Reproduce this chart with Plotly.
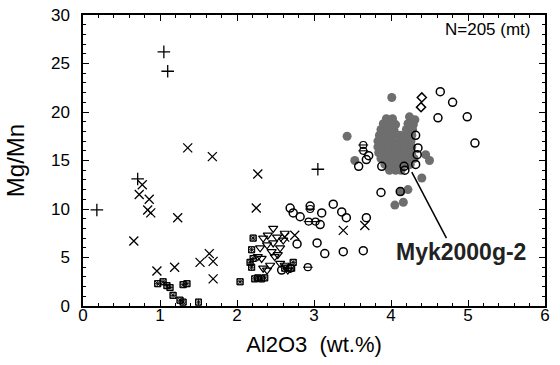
import plotly.graph_objects as go

# ---- data (Al2O3 wt.%, Mg/Mn) ----
plus_x = [1.05, 1.10, 0.18, 0.71, 3.05]
plus_y = [26.2, 24.2, 9.9, 13.1, 14.1]

xmark_x = [1.36, 1.68, 2.27, 0.77, 0.73, 0.86, 0.84, 0.88, 1.23, 0.66, 0.96, 1.19,
           1.52, 1.64, 1.69, 1.69, 2.25, 2.62, 2.75, 3.38, 3.66]
xmark_y = [16.3, 15.4, 13.6, 12.5, 11.5, 11.0, 9.9, 9.6, 9.1, 6.7, 3.6, 4.0,
           4.5, 5.4, 4.6, 2.8, 10.1, 7.1, 7.3, 7.8, 8.3]

sq_x = [0.97, 1.04, 1.09, 1.13, 1.17, 1.26, 1.30, 1.30, 1.35, 1.50, 2.04, 2.23,
        2.32, 2.21, 2.19, 2.21, 2.19, 2.27, 2.36, 2.73, 2.71, 2.62, 2.17]
sq_y = [2.3, 2.5, 2.1, 1.9, 1.1, 0.6, 0.4, 2.2, 2.3, 0.4, 2.5, 2.8,
        2.8, 7.0, 5.8, 4.9, 4.0, 2.9, 2.9, 4.5, 3.9, 3.9, 4.5]

tri_x = [2.47, 2.62, 2.34, 2.40, 2.52, 2.39, 2.47, 2.30, 2.32, 2.45, 2.49, 2.34,
         2.56, 2.66, 2.60, 2.56, 2.27, 2.53, 2.43, 2.39, 2.62]
tri_y = [8.0, 7.5, 7.0, 7.3, 7.1, 6.3, 6.5, 6.0, 4.9, 5.6, 5.1, 3.9,
         4.4, 3.7, 6.8, 6.0, 5.1, 5.3, 4.2, 3.7, 4.2]

circ_x = [2.69, 2.73, 2.82, 2.95, 3.10, 3.08, 3.25, 3.36, 3.42, 3.68, 3.04, 2.78,
          3.14, 3.38, 3.64, 2.58, 2.69, 3.87, 4.12, 4.64, 4.80, 4.61, 4.99,
          5.09, 3.71, 3.58, 3.88, 4.17, 4.32, 4.35, 4.34, 4.32, 4.18, 3.68]
circ_y = [10.1, 9.6, 9.2, 10.3, 9.6, 8.4, 10.5, 9.7, 9.1, 9.1, 6.5, 6.4,
          5.4, 5.6, 5.7, 3.7, 3.9, 11.7, 11.8, 22.1, 21.0, 19.4, 19.5,
          16.8, 15.5, 14.4, 14.4, 14.4, 17.6, 16.3, 15.6, 14.6, 14.0, 15.1]

bar_x = [3.64, 3.64, 2.93, 3.02, 2.92, 2.95]
bar_y = [16.6, 16.0, 8.7, 8.7, 4.0, 10.0]

dia_x = [4.40, 4.39]
dia_y = [21.5, 20.5]

fill_x = [4.01, 3.43, 3.53, 4.45, 4.40, 4.13, 4.22, 4.05, 4.16, 4.50,
          3.94, 4.02, 4.24, 4.31,
          3.90, 3.98, 4.06, 4.22, 4.29,
          3.87, 3.95, 4.04, 4.20, 4.28,
          3.85, 3.94, 4.03, 4.12, 4.19, 4.27,
          3.83, 3.92, 4.01, 4.10, 4.19, 4.26,
          3.83, 3.92, 4.01, 4.10, 4.19, 4.27,
          3.84, 3.92, 4.01, 4.10, 4.19, 4.27,
          3.87, 3.95, 4.04, 4.13, 4.22, 4.30,
          3.92, 4.00, 4.08, 4.17, 4.25,
          3.98, 4.06, 4.13]
fill_y = [21.5, 17.5, 15.0, 15.6, 13.2, 11.8, 12.0, 10.4, 10.7, 15.0,
          19.3, 19.3, 19.5, 19.2,
          18.8, 18.8, 18.7, 18.8, 18.7,
          18.2, 18.2, 18.1, 18.2, 18.2,
          17.6, 17.6, 17.7, 17.6, 17.6, 17.6,
          17.0, 17.0, 17.0, 17.0, 17.0, 17.0,
          16.4, 16.4, 16.4, 16.4, 16.4, 16.4,
          15.8, 15.8, 15.8, 15.8, 15.8, 15.8,
          15.2, 15.2, 15.2, 15.2, 15.2, 15.2,
          14.6, 14.6, 14.6, 14.6, 14.6,
          14.0, 14.0, 14.0]

label_text = "Myk2000g-2"
n_text = "N=205 (mt)"

fig = go.Figure()

def add(x, y, symbol, size, color="black", lw=1.3):
    fig.add_trace(go.Scatter(x=x, y=y, mode="markers",
                             marker=dict(symbol=symbol, size=size, color=color,
                                         line=dict(color=color, width=lw)),
                             showlegend=False, hoverinfo="skip"))

add(fill_x, fill_y, "circle", 9, color="#6e6e6e", lw=0)
add(sq_x, sq_y, "square-x-open", 6, lw=0.9)
add(sq_x, sq_y, "square-cross-open", 6, lw=0.9)
add(tri_x, tri_y, "triangle-down-open", 8, lw=1.2)
add(circ_x, circ_y, "circle-open", 8, lw=1.5)
add(bar_x, bar_y, "circle-open", 7, lw=1.2)
add(bar_x, bar_y, "line-ew-open", 7, lw=1.1)
add(dia_x, dia_y, "diamond-open", 7, lw=1.5)
add(xmark_x, xmark_y, "x-thin-open", 9, lw=1.3)
add(plus_x, plus_y, "cross-thin-open", 9, lw=1.3)

fig.add_shape(type="line", x0=4.27, y0=13.8, x1=4.72, y1=7.0,
              line=dict(color="black", width=1.5))
fig.add_annotation(x=4.91, y=5.6, text="<b>" + label_text + "</b>", showarrow=False,
                   font=dict(size=23, color="#222"))
fig.add_annotation(x=0.975, y=0.99, xref="paper", yref="paper", xanchor="right", yanchor="top",
                   text=n_text, showarrow=False, font=dict(size=17, color="black"))

axis_common = dict(showline=True, linecolor="black", linewidth=1.5, mirror="ticks",
                   ticks="inside", ticklen=6, tickwidth=1.2, tickcolor="black",
                   showgrid=False, zeroline=False, automargin=False,
                   tickfont=dict(size=17, color="black"))

fig.update_xaxes(range=[0, 6], dtick=1, tick0=0, ticklabelstandoff=-7,
                 minor=dict(dtick=0.2, ticklen=3, ticks="inside", tickcolor="black", showgrid=False),
                 title=dict(text="Al2O3  (wt.%)", font=dict(size=22, color="black"), standoff=12),
                 **axis_common)
fig.update_yaxes(range=[0, 30], dtick=5, tick0=0, ticklabelstandoff=8,
                 minor=dict(dtick=1, ticklen=3, ticks="inside", tickcolor="black", showgrid=False),
                 title=dict(text="Mg/Mn", font=dict(size=24, color="black"), standoff=20),
                 **axis_common)

fig.update_layout(width=560, height=365, margin=dict(l=83, r=15, t=15, b=59),
                  plot_bgcolor="white", paper_bgcolor="white",
                  font=dict(family="Liberation Sans, Arial, sans-serif", color="black"))

# remove the default 8px page margin so the figure sits at the window origin
fig.write_html("out.html", config={"displayModeBar": False},
               post_script="document.body.style.margin='0px';")
